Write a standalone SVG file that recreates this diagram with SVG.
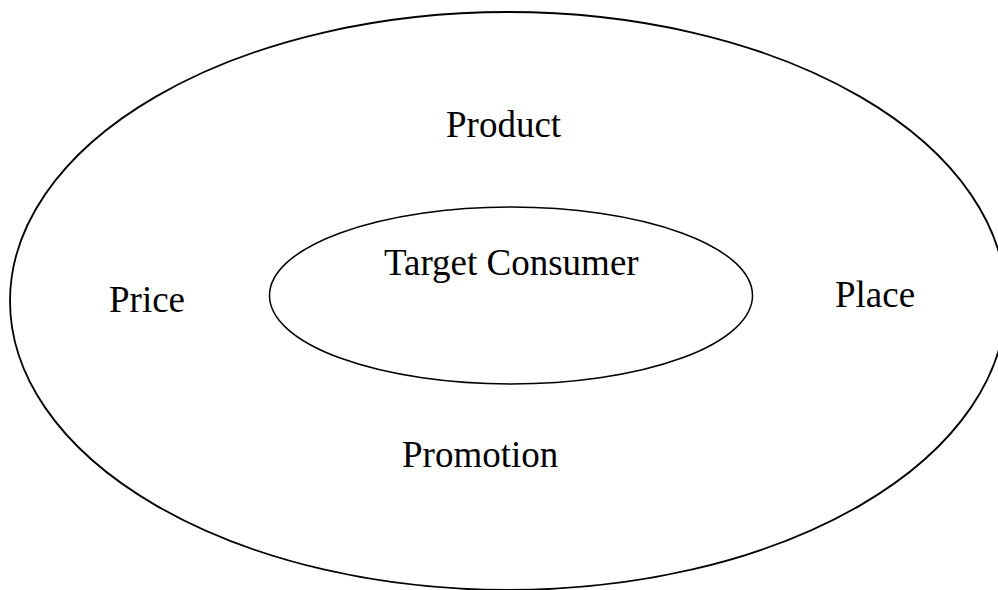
<svg xmlns="http://www.w3.org/2000/svg" width="998" height="590" viewBox="0 0 998 590">
  <style>
    .ring { fill: none; stroke: #000; }
    .label { font-family: "Liberation Serif", "Times New Roman", serif; font-size: 37px; fill: #000; }
  </style>
  <rect width="998" height="590" fill="#fff"/>
  <!-- Outer ring: the marketing mix -->
  <g id="marketing-mix">
    <ellipse class="ring" cx="508" cy="301" rx="498" ry="289" stroke-width="1.8"/>
    <text class="label" x="446" y="137">Product</text>
    <text class="label" x="109" y="312">Price</text>
    <text class="label" x="835" y="307">Place</text>
    <text class="label" x="402" y="467">Promotion</text>
  </g>
  <!-- Inner ring: the target consumer -->
  <g id="target-consumer">
    <ellipse class="ring" cx="511" cy="295.5" rx="241.5" ry="88.5" stroke-width="1.5"/>
    <text class="label" x="384" y="275">Target Consumer</text>
  </g>
</svg>
